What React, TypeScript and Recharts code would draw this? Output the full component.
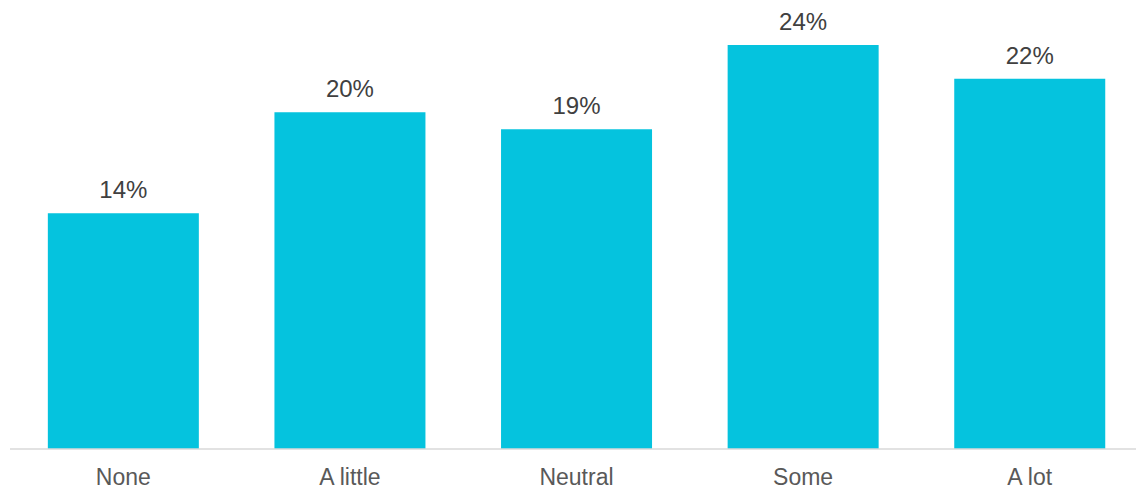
import { Bar, BarChart, Cell, LabelList, XAxis, YAxis } from "recharts";

const CATEGORIES = ["None", "A little", "Neutral", "Some", "A lot"];
const SHARES = [14, 20, 19, 24, 22];

const BAR_COLOR = "#05c3de";

const chartData = CATEGORIES.map((name, i) => ({ name, share: SHARES[i] }));

export default function App() {
  return (
    <div
      style={{
        position: "absolute",
        left: 0,
        top: 0,
        width: 1136,
        height: 490,
        overflow: "hidden",
        background: "#fff",
      }}
    >
      <BarChart
        width={1143}
        height={490}
        data={chartData}
        margin={{ top: 45, right: 0, bottom: 0, left: 10 }}
        barCategoryGap="16.7%"
      >
        <XAxis
          dataKey="name"
          height={41}
          tickLine={false}
          tickSize={0}
          tickMargin={20}
          axisLine={{ stroke: "#d9d9d9", strokeWidth: 1.5 }}
          tick={{ fill: "#595959", fontSize: 23, fontFamily: "Liberation Sans, Arial, sans-serif" }}
        />
        <YAxis hide domain={[0, 24]} />
        <Bar dataKey="share" isAnimationActive={false}>
          {chartData.map((entry) => (
            <Cell key={entry.name} fill={BAR_COLOR} />
          ))}
          <LabelList
            dataKey="share"
            position="top"
            offset={15}
            formatter={(v: number) => `${v}%`}
            style={{ fill: "#404040", fontSize: 24, fontFamily: "Liberation Sans, Arial, sans-serif" }}
          />
        </Bar>
      </BarChart>
    </div>
  );
}
